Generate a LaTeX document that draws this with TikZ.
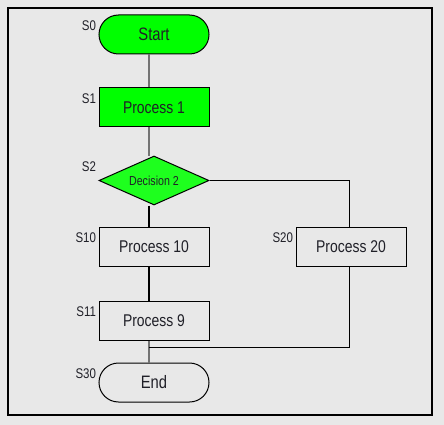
\documentclass[tikz,border=0pt]{standalone}
\usepackage{fontspec}
\setmainfont{Liberation Sans}[FakeStretch=0.82]
\usetikzlibrary{shapes.geometric}
\definecolor{bg}{HTML}{E8E8E8}
\definecolor{act}{HTML}{00FF00}
\definecolor{dec}{HTML}{1EFF1E}
\definecolor{txt}{HTML}{202028}
\begin{document}
\begin{tikzpicture}
  [x=1pt,y=-1pt,every node/.style={draw,line width=1pt,text=txt,minimum width=110pt,minimum height=39pt,inner sep=0pt},
   term/.style={rounded corners=19.5pt,font=\fontsize{18}{20}\selectfont},
   proc/.style={font=\fontsize{17}{20}\selectfont},
   choice/.style={diamond,minimum height=49pt,aspect=2.2,font=\fontsize{13}{14}\selectfont},
   lbl/.style={draw=none,minimum width=0pt,minimum height=0pt,anchor=north east,font=\fontsize{14}{15}\selectfont},
   flow/.style={line width=1.6pt,gray!90!black},
   wire/.style={line width=1.4pt,black}]
  \fill[bg] (0,0) rectangle (444,425);
  \draw[line width=1.5pt] (8,8) rectangle (432,415);

  \node[term,fill=act] (start) at (154,34.5) {Start};
  \node[proc,fill=act] (p1) at (154,107.5) {Process 1};
  \node[choice,fill=dec] (d2) at (154,180.5) {Decision 2};
  \node[proc] (p10) at (154,246.5) {Process 10};
  \node[proc] (p20) at (351,246.5) {Process 20};
  \node[proc] (p9) at (154,320.5) {Process 9};
  \node[term] (end) at (154,382.5) {End};
  \coordinate (join) at (149,347);

  \foreach \n/\t in {start/S0,p1/S1,d2/S2,p10/S10,p20/S20,p9/S11,end/S30}
    \node[lbl] at ([xshift=-2pt,yshift=-5.5pt]\n.west |- \n.north) {\t};

  \draw[flow] ([xshift=-5pt]start.south) -- ([xshift=-5pt]p1.north);
  \draw[flow] ([xshift=-5pt]p1.north |- p1.south) -- ([xshift=-5pt]d2.north);
  \draw[wire] ([xshift=-5pt]d2.south) -- ([xshift=-5pt]p10.north);
  \draw[wire] ([xshift=-5pt]p10.south) -- ([xshift=-5pt]p9.north);
  \draw[flow] ([xshift=-5pt]p9.south) -- ([xshift=-5pt]end.north);
  \draw[wire,line width=1pt] (d2.east) -| ([xshift=-2pt]p20.north);
  \draw[wire,line width=1pt] ([xshift=-2pt]p20.south) |- (join);
\end{tikzpicture}
\end{document}
